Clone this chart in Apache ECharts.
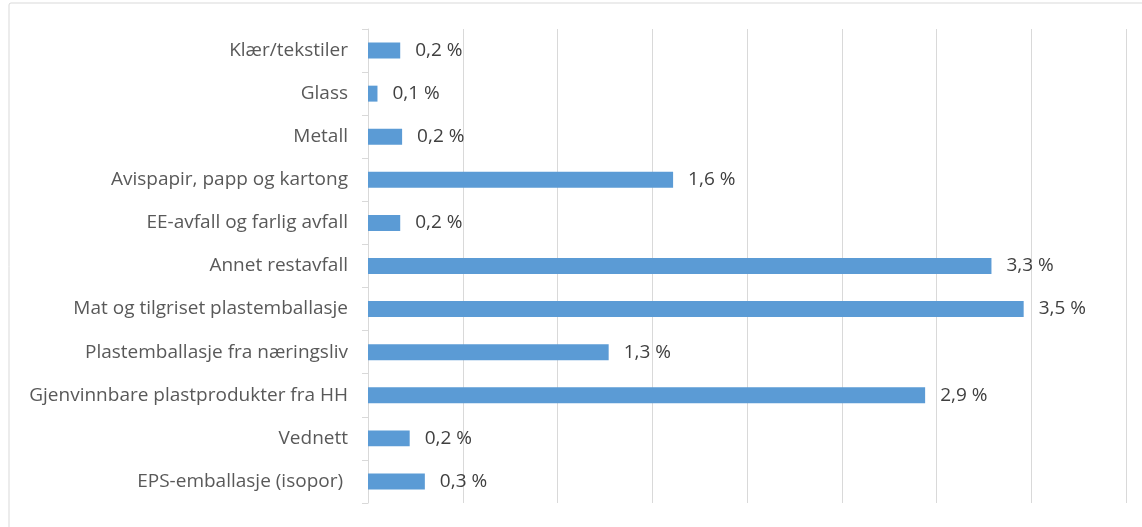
<!DOCTYPE html>
<html>
<head>
<meta charset="utf-8">
<script src="https://cdn.jsdelivr.net/npm/echarts@6/dist/echarts.min.js"></script>
<style>
	html, body { margin: 0; padding: 0; background: #fff; }
	#main { width: 1142px; height: 527px; }
</style>
</head>
<body>
<div id="main"></div>
<script>
	// kategorier, ovenfra og ned
	var categories = [
		'Klær/tekstiler',
		'Glass',
		'Metall',
		'Avispapir, papp og kartong',
		'EE-avfall og farlig avfall',
		'Annet restavfall',
		'Mat og tilgriset plastemballasje',
		'Plastemballasje fra næringsliv',
		'Gjenvinnbare plastprodukter fra HH',
		'Vednett',
		'EPS-emballasje (isopor) '
	]
	// andel i prosent
	var shares = [0.17, 0.05, 0.18, 1.61, 0.17, 3.29, 3.46, 1.27, 2.94, 0.22, 0.3]

	var xMin = 0, xMax = 4, xStep = 0.5

	var fmt = function (v) {
		return (Math.round(v * 10) / 10).toFixed(1).replace('.', ',') + ' %'
	}

	var myChart = echarts.init(document.getElementById('main'))
	var option = {
		backgroundColor: '#fff',
		animation: false,
		textStyle: { fontFamily: 'Open Sans' },
		graphic: [{
			type: 'rect',
			shape: { x: 9, y: 3, width: 1300, height: 700, r: 2 },
			style: { fill: 'none', stroke: '#d9d9d9', lineWidth: 1 },
			silent: true
		}],
		grid: { left: 368, right: 16, top: 29, bottom: 24, containLabel: false },
		xAxis: {
			type: 'value',
			min: xMin,
			max: xMax,
			interval: xStep,
			axisLine: { show: false },
			axisTick: { show: false },
			axisLabel: { show: false },
			splitLine: { show: true, lineStyle: { color: '#d9d9d9', width: 1 } }
		},
		yAxis: {
			type: 'category',
			inverse: true,
			data: categories,
			axisLine: { show: true, lineStyle: { color: '#d9d9d9' } },
			axisTick: { show: true, length: 6, lineStyle: { color: '#d9d9d9' } },
			axisLabel: { color: '#595959', fontSize: 19, margin: 20 }
		},
		series: [{
			type: 'bar',
			data: shares,
			barWidth: '37%',
			itemStyle: { color: '#5b9bd5' },
			label: {
				show: true,
				position: 'right',
				distance: 15,
				color: '#404040',
				fontSize: 19,
				formatter: function (p) { return fmt(p.value) }
			}
		}]
	}
	myChart.setOption(option)
</script>
</body>
</html>
